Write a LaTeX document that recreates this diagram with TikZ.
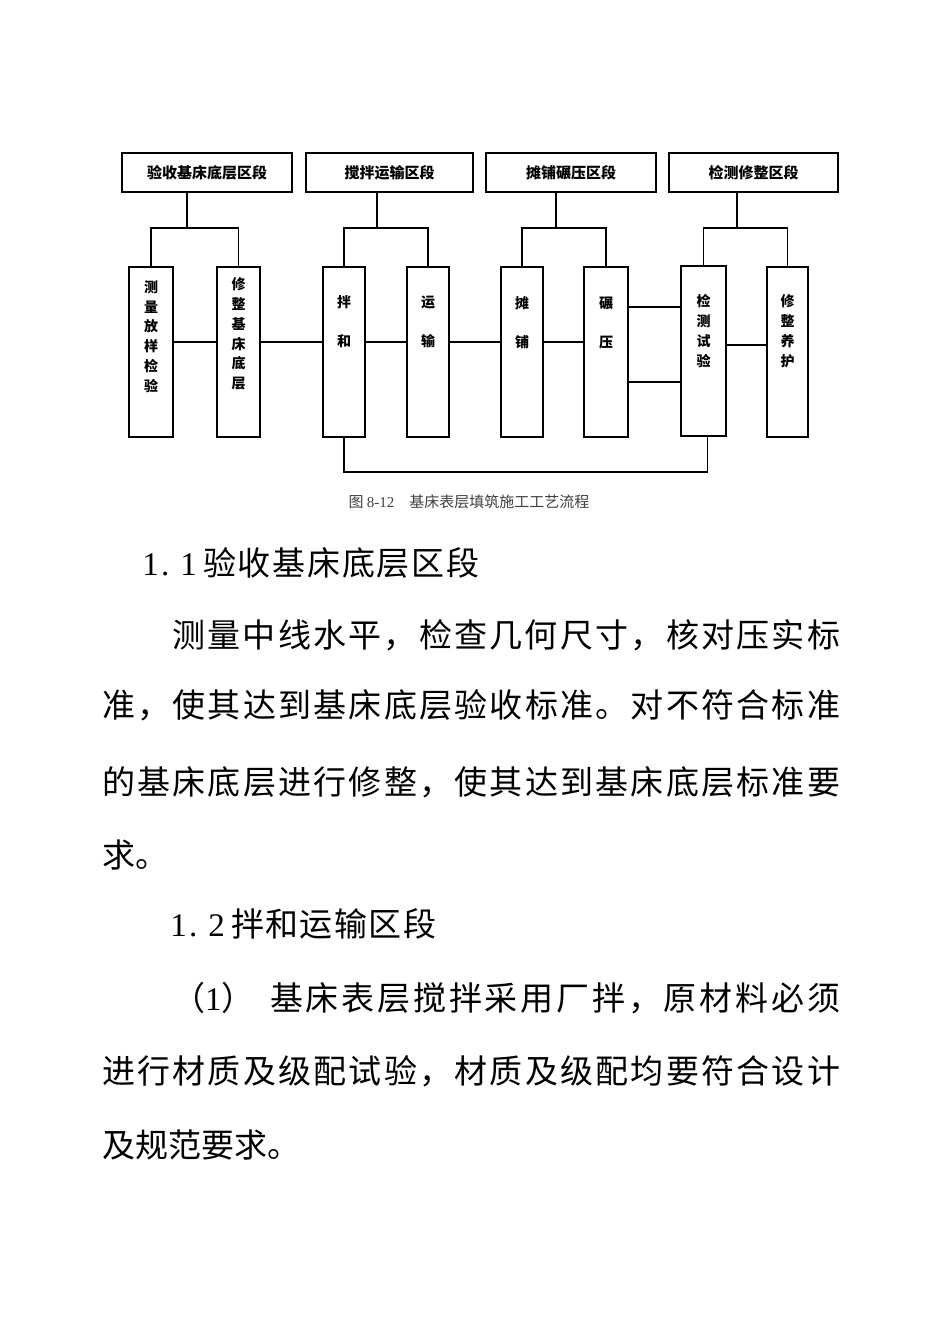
\documentclass[tikz,border=0pt]{standalone}
\usepackage{fontspec}
\newfontfamily\cjk{Noto Sans CJK SC}
\newfontfamily\serf{Liberation Serif}
\makeatletter
\newcommand\spreadto[2]{\hbox to #1{\def\sp@sep{}\@tfor\sp@c:=#2\do{\sp@sep\sp@c\def\sp@sep{\hfil}}}}
\makeatother
\newcommand\halfc[1]{\hbox to 19pt{\hss{\serf #1}\hss}}
\newcommand\halfp{\hbox to 19pt{\hskip1pt{\serf .}\hss}}
\begin{document}
\begin{tikzpicture}[x=1pt,y=-1pt,
  box/.style={draw,line width=1.5pt,inner sep=0pt},
  topbox/.style={box,minimum height=39pt,font=\cjk\bfseries\fontsize{15}{15}\selectfont},
  lowbox/.style={box,minimum height=170pt},
  vlbl/.style={align=center,inner sep=0pt,font=\cjk\bfseries\fontsize{14}{#1}\selectfont},
  link/.style={line width=1.5pt},
  bodyline/.style={anchor=base west,inner sep=0pt,font=\cjk\fontsize{33}{33}\selectfont},
]
\useasboundingbox[fill=white] (0,0) rectangle (950,1344);

% top boxes
\node[topbox,minimum width=170pt] (T1) at (207,172.5) {验收基床底层区段};
\node[topbox,minimum width=167pt] (T2) at (389.5,172.5) {搅拌运输区段};
\node[topbox,minimum width=170pt] (T3) at (571,172.5) {摊铺碾压区段};
\node[topbox,minimum width=169pt] (T4) at (753.5,172.5) {检测修整区段};

% lower boxes
\node[lowbox,minimum width=44pt] (A) at (151,352) {};
\node[lowbox,minimum width=43pt] (B) at (238.5,352) {};
\node[lowbox,minimum width=42pt] (C) at (344,352) {};
\node[lowbox,minimum width=42pt] (D) at (428,352) {};
\node[lowbox,minimum width=42pt] (E) at (522,352) {};
\node[lowbox,minimum width=44pt] (F) at (606,352) {};
\node[lowbox,minimum width=45pt] (G) at (703.5,351) {};
\node[lowbox,minimum width=41pt] (H) at (787.5,352) {};

% labels in lower boxes
\node[vlbl=19.8] (Al) at (151,336.5) {测\\量\\放\\样\\检\\验};
\node[vlbl=19.8] (Bl) at (238.5,334) {修\\整\\基\\床\\底\\层};
\node[vlbl=39] (Cl) at (344,321.5) {拌\\和};
\node[vlbl=39] (Dl) at (428,322) {运\\输};
\node[vlbl=39] (El) at (522,322.5) {摊\\铺};
\node[vlbl=39] (Fl) at (606,322.5) {碾\\压};
\node[vlbl=20] (Gl) at (703.5,331) {检\\测\\试\\验};
\node[vlbl=20] (Hl) at (787.5,331) {修\\整\\养\\护};

% tree connectors
\coordinate (j1) at (187,228);
\coordinate (j2) at (377,228);
\coordinate (j3) at (556,228);
\coordinate (j4) at (737,228);
\draw[link] (T1.south -| j1) -- (j1);
\draw[link] (T2.south -| j2) -- (j2);
\draw[link] (T3.south -| j3) -- (j3);
\draw[link] (T4.south -| j4) -- (j4);
\draw[link] (A.north) |- (j1) -| (B.north);
\draw[link] (C.north) |- (j2) -| (D.north);
\draw[link] (E.north) |- (j3) -| (F.north);
\draw[link] (G.north) |- (j4) -| (H.north);

% horizontal links
\coordinate (h) at (0,342);
\coordinate (hf1) at (0,307);
\coordinate (hf2) at (0,382);
\coordinate (hg) at (0,345);
\draw[link] (A.east |- h) -- (B.west |- h);
\draw[link] (B.east |- h) -- (C.west |- h);
\draw[link] (C.east |- h) -- (D.west |- h);
\draw[link] (D.east |- h) -- (E.west |- h);
\draw[link] (E.east |- h) -- (F.west |- h);
\draw[link] (F.east |- hf1) -- (G.west |- hf1);
\draw[link] (F.east |- hf2) -- (G.west |- hf2);
\draw[link] (G.east |- hg) -- (H.west |- hg);

% bottom loop
\coordinate (lp) at (0,472);
\draw[link] (C.south) |- ([xshift=4pt]lp -| G.south) -- ([xshift=4pt]G.south);

% caption
\node[inner sep=0pt,font=\cjk\fontsize{15}{15}\selectfont,text=black!75] (cap) at (469,502) {图~{\serf 8-12}\quad 基床表层填筑施工工艺流程};

% body text
\node[bodyline] (L1) at (141,575) {\halfc{1}\halfp\halfc{1}\hskip5pt\spreadto{276pt}{验收基床底层区段}};
\node[bodyline] (L2) at (172,647) {\spreadto{668pt}{测量中线水平，检查几何尺寸，核对压实标}};
\node[bodyline] (L3) at (102,717) {\spreadto{738pt}{准，使其达到基床底层验收标准。对不符合标准}};
\node[bodyline] (L4) at (102,794) {\spreadto{738pt}{的基床底层进行修整，使其达到基床底层标准要}};
\node[bodyline] (L5) at (102,867) {求。};
\node[bodyline] (L6) at (169,936) {\halfc{1}\halfp\halfc{2}\hskip5pt\spreadto{205pt}{拌和运输区段}};
\node[bodyline] (L7a) at (172,1010) {（{\serf 1}）};
\node[bodyline] (L7) at (270,1010) {\spreadto{570pt}{基床表层搅拌采用厂拌，原材料必须}};
\node[bodyline] (L8) at (102,1083) {\spreadto{738pt}{进行材质及级配试验，材质及级配均要符合设计}};
\node[bodyline] (L9) at (102,1157) {及规范要求。};
\end{tikzpicture}
\end{document}
